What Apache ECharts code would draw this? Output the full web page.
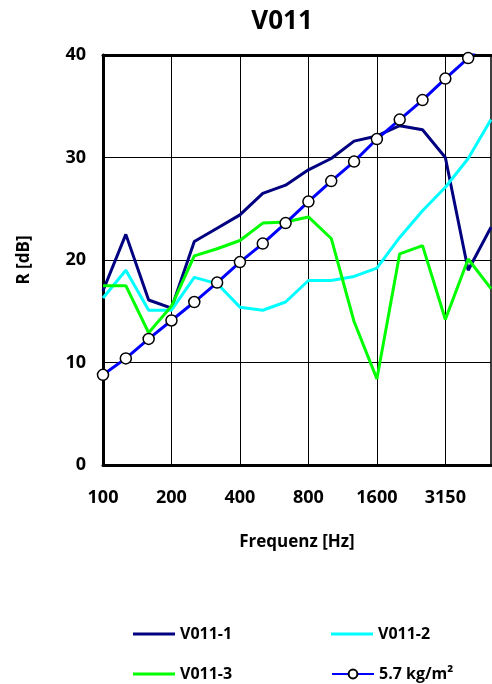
<!DOCTYPE html>
<html>
<head>
<meta charset="utf-8">
<script src="https://cdn.jsdelivr.net/npm/echarts@6/dist/echarts.min.js"></script>
<style>html,body{margin:0;padding:0;background:#fff}#c{width:492px;height:684px}</style>
</head>
<body>
<div id="c"></div>
<script>
var frequencies = ["100","125","160","200","250","315","400","500","630","800","1000","1250","1600","2000","2500","3150","4000","5000"];
var v011_1 = [17.0, 22.5, 16.1, 15.3, 21.8, 23.1, 24.4, 26.5, 27.3, 28.8, 29.9, 31.6, 32.1, 33.1, 32.7, 30.0, 19.0, 23.2];
var v011_2 = [16.3, 19.0, 15.1, 15.1, 18.3, 17.7, 15.4, 15.1, 15.9, 18.0, 18.0, 18.4, 19.2, 22.2, 24.8, 27.1, 29.9, 33.7];
var v011_3 = [17.5, 17.5, 12.9, 15.5, 20.4, 21.1, 21.9, 23.6, 23.7, 24.2, 22.1, 14.0, 8.4, 20.6, 21.4, 14.2, 20.1, 17.2];
var massLaw = [8.8, 10.4, 12.3, 14.1, 15.9, 17.8, 19.8, 21.6, 23.6, 25.7, 27.7, 29.6, 31.8, 33.7, 35.6, 37.7, 39.7, 41.7];
var yTicks = [0, 10, 20, 30, 40];

var FONT = '"Open Sans", "Noto Sans", sans-serif';
var chart = echarts.init(document.getElementById('c'), null, {renderer: 'canvas'});
function lg(name, left, top, lineOnly) {
  return {
    data: [lineOnly ? {name: name, icon: 'rect'} : {name: name}],
    left: left, top: top, itemWidth: 42, itemHeight: lineOnly ? 3 : 11, itemGap: 0,
    textStyle: {fontFamily: FONT, fontWeight: 'bold', fontSize: 16, color: '#000'},
    selectedMode: false
  };
}
chart.setOption({
  animation: false,
  backgroundColor: '#fff',
  title: {
    text: 'V011', left: 277, top: 4, textAlign: 'center',
    textStyle: {fontFamily: FONT, fontWeight: 'bold', fontSize: 26, color: '#000'}
  },
  grid: {left: 103, right: 1, top: 55, bottom: 219, show: true, borderColor: '#000', borderWidth: 1.5, backgroundColor: 'transparent'},
  legend: [
    lg('V011-1', 128, 621, true),
    lg('V011-2', 326, 621, true),
    lg('V011-3', 128, 661, true),
    lg('5.7 kg/m²', 326, 661, false)
  ],
  xAxis: [{
    type: 'category', data: frequencies, boundaryGap: false,
    name: 'Frequenz [Hz]', nameLocation: 'middle', nameGap: 69,
    nameTextStyle: {fontFamily: FONT, fontWeight: 'bold', fontSize: 17, color: '#000'},
    axisLine: {show: true, lineStyle: {color: '#000', width: 3}},
    axisTick: {show: false},
    axisLabel: {interval: 2, margin: 24, fontFamily: FONT, fontWeight: 'bold', fontSize: 18, color: '#000'},
    splitLine: {show: true, interval: 2, lineStyle: {color: '#000', width: 1}}
  }, {
    type: 'category', data: frequencies, boundaryGap: false, position: 'top',
    axisLine: {show: true, lineStyle: {color: '#000', width: 3}},
    axisTick: {show: false}, axisLabel: {show: false}, splitLine: {show: false}
  }],
  yAxis: {
    type: 'value', min: yTicks[0], max: yTicks[yTicks.length - 1], interval: 10,
    name: 'R [dB]', nameLocation: 'middle', nameGap: 70,
    nameTextStyle: {fontFamily: FONT, fontWeight: 'bold', fontSize: 17, color: '#000'},
    axisLine: {show: true, lineStyle: {color: '#000', width: 3}},
    axisTick: {show: false},
    axisLabel: {margin: 17, fontFamily: FONT, fontWeight: 'bold', fontSize: 18, color: '#000'},
    splitLine: {show: true, lineStyle: {color: '#000', width: 1}}
  },
  series: [
    {name: 'V011-1', type: 'line', data: v011_1, symbol: 'none', lineStyle: {color: '#000080', width: 3}, itemStyle: {color: '#000080'}},
    {name: 'V011-2', type: 'line', data: v011_2, symbol: 'none', lineStyle: {color: '#00ffff', width: 3}, itemStyle: {color: '#00ffff'}},
    {name: 'V011-3', type: 'line', data: v011_3, symbol: 'none', lineStyle: {color: '#00ff00', width: 3}, itemStyle: {color: '#00ff00'}},
    {name: '5.7 kg/m²', type: 'line', data: massLaw, symbol: 'circle', symbolSize: 11,
     lineStyle: {color: '#0000ff', width: 3},
     itemStyle: {color: '#fff', borderColor: '#000', borderWidth: 1.5}}
  ]
});
</script>
</body>
</html>
